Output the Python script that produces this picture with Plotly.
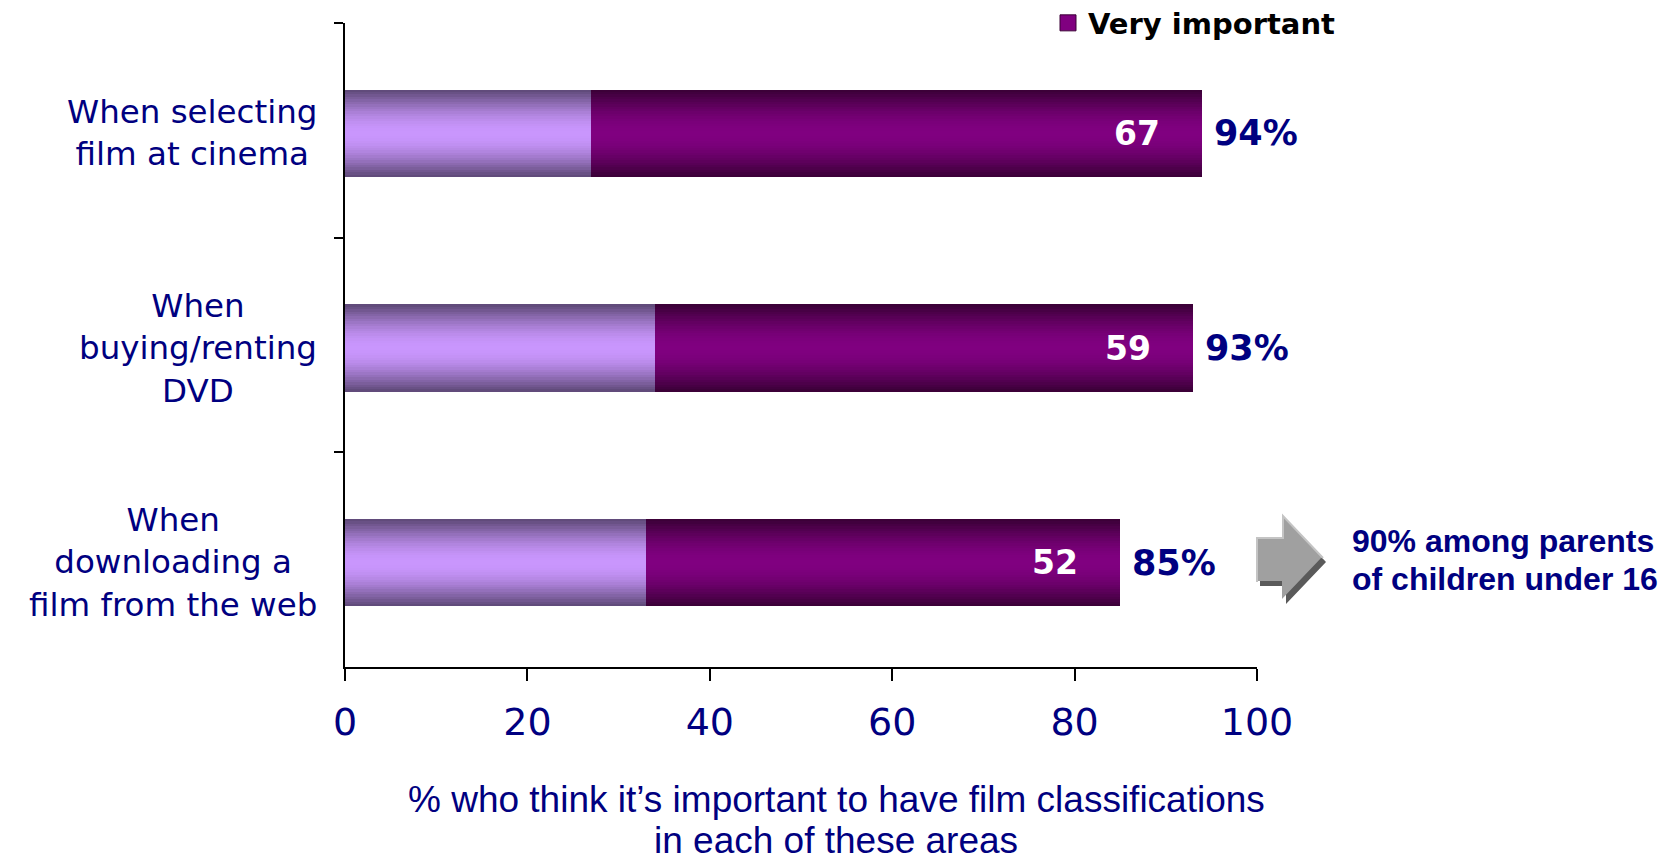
import math
import plotly.graph_objects as go

categories = ["When selecting film at cinema", "When buying/renting DVD", "When downloading a film from the web"]
category_labels = ["When selecting<br>film at cinema", "When<br>buying/renting<br>DVD", "When<br>downloading a<br>film from the web"]
fairly_important = [27, 34, 33]
very_important = [67, 59, 52]
total_labels = ["94%", "93%", "85%"]
x_ticks = [0, 20, 40, 60, 80, 100]
note_lines = ["90% among parents", "of children under 16"]
axis_title_lines = ["% who think it\u2019s important to have film classifications", "in each of these areas"]

NAVY = "#000080"
# page (window) is 1668x861; the html body has an 8px margin
OFF = 8
PAGE_W, PAGE_H = 1668, 861
PL, PR, PT, PB = 345, 1257, 23, 667   # plot area in page pixels
FW, FH = PAGE_W - OFF, PAGE_H - OFF
L, R, T, B = PL - OFF, PAGE_W - PR, PT - OFF, PAGE_H - PB
PW, PH = PR - PL, PB - PT

def px2paper(px, py):
    return (px - PL) / PW, (PB - py) / PH

def mix(c1, c2, f):
    a = [int(c1[i:i + 2], 16) for i in (1, 3, 5)]
    b = [int(c2[i:i + 2], 16) for i in (1, 3, 5)]
    return "#" + "".join(f"{round(x + (y - x) * f):02x}" for x, y in zip(a, b))

fig = go.Figure()
BAR_W = 0.408
BAR_SHIFT = 0.014
N = 18
light_edge, light_center = "#5e4977", "#c996fd"
dark_edge, dark_center = "#3a0036", "#800080"
totals = [f + v for f, v in zip(fairly_important, very_important)]
for k in range(N):
    s = (k + 0.5) / N
    f = math.sin(s * math.pi / 2) ** 1.1
    w = BAR_W * (1 - k / N)
    off = -w / 2 + BAR_SHIFT
    fig.add_trace(go.Bar(y=categories, x=fairly_important, base=[0] * 3, orientation="h",
                         width=w, offset=off,
                         marker=dict(color=mix(light_edge, light_center, f), line=dict(width=0)),
                         showlegend=False, hoverinfo="skip"))
    fig.add_trace(go.Bar(y=categories, x=very_important, base=fairly_important, orientation="h",
                         width=w, offset=off,
                         marker=dict(color=mix(dark_edge, dark_center, f), line=dict(width=0)),
                         showlegend=False, hoverinfo="skip"))
# legend entry for the "Very important" series
fig.add_trace(go.Scatter(x=[None], y=[None], mode="markers", name="<b>Very important</b>",
                         marker=dict(symbol="square", size=16, color=dark_center,
                                     line=dict(width=1, color=dark_edge)),
                         showlegend=True, hoverinfo="skip"))

annotations = []
for cat, lab in zip(categories, category_labels):
    x, _ = px2paper(319, 0)
    annotations.append(dict(xref="paper", yref="y", x=x, y=cat, text=lab, xanchor="right", yanchor="middle",
                            align="center", showarrow=False, yshift=-3,
                            font=dict(family="DejaVu Sans", size=32.5, color=NAVY)))
for cat, v, tot, tl in zip(categories, very_important, totals, total_labels):
    annotations.append(dict(xref="x", yref="y", x=tot, y=cat, text=f"<b>{v}</b>", xanchor="right",
                            xshift=-40, yshift=-3, showarrow=False,
                            font=dict(family="DejaVu Sans", size=33, color="white")))
    annotations.append(dict(xref="x", yref="y", x=tot, y=cat, text=f"<b>{tl}</b>", xanchor="left",
                            xshift=10, yshift=-3, showarrow=False,
                            font=dict(family="DejaVu Sans", size=35, color=NAVY)))
for line, py in zip(axis_title_lines, [799, 840]):
    ax, ay = px2paper(836, py)
    annotations.append(dict(xref="paper", yref="paper", x=ax, y=ay, text=line, xanchor="center",
                            yanchor="middle", showarrow=False,
                            font=dict(family="Liberation Sans, Arial", size=37, color=NAVY)))
for line, py in zip(note_lines, [541, 579]):
    nx, ny = px2paper(1350, py)
    annotations.append(dict(xref="paper", yref="paper", x=nx, y=ny, text=f"<b>{line}</b>", xanchor="left",
                            yanchor="middle", showarrow=False,
                            font=dict(family="Liberation Sans, Arial", size=32, color=NAVY)))

ARROW = [(1256, 537), (1282, 537), (1282, 515), (1322, 557), (1282, 599), (1282, 581), (1256, 581)]

def poly_path(pts, dx, dy, close=True):
    out = []
    for i, (px, py) in enumerate(pts):
        x, y = px2paper(px + dx, py + dy)
        out.append(("M" if i == 0 else "L") + f"{x:.5f},{y:.5f}")
    return " ".join(out) + (" Z" if close else "")

highlight = [ARROW[6], ARROW[0], ARROW[1], ARROW[2], ARROW[3]]
shapes = [
    dict(type="path", xref="paper", yref="paper", path=poly_path(ARROW, 4, 5), fillcolor="#5a5a5a", line=dict(width=0)),
    dict(type="path", xref="paper", yref="paper", path=poly_path(ARROW, 0, 0), fillcolor="#a0a0a0", line=dict(width=0)),
    dict(type="path", xref="paper", yref="paper", path=poly_path(highlight, 1, 1, close=False),
         line=dict(width=2, color="#c4c4c4")),
]

lx, ly = px2paper(1048, 23)
fig.update_layout(
    width=FW, height=FH, margin=dict(l=L, r=R, t=T, b=B, pad=0, autoexpand=False),
    paper_bgcolor="white", plot_bgcolor="white",
    barmode="overlay", bargap=0,
    annotations=annotations, shapes=shapes,
    legend=dict(x=lx, y=ly, xanchor="left", yanchor="middle", bgcolor="rgba(0,0,0,0)",
                font=dict(family="DejaVu Sans", size=29, color="black"), itemwidth=30),
    xaxis=dict(range=[0, 100], tickvals=x_ticks, showgrid=False, zeroline=False,
               showline=True, linecolor="black", linewidth=1.5, ticks="outside", ticklen=12,
               tickcolor="black", tickwidth=1.5, ticklabelstandoff=9,
               tickfont=dict(family="DejaVu Sans", size=38, color=NAVY)),
    yaxis=dict(categoryorder="array", categoryarray=categories, autorange="reversed",
               showticklabels=False, showgrid=False, zeroline=False, showline=True,
               linecolor="black", linewidth=1.5, ticks="outside", ticklen=9, tickson="boundaries",
               tickcolor="black", tickwidth=1.5),
)
fig.write_html("out.html")
